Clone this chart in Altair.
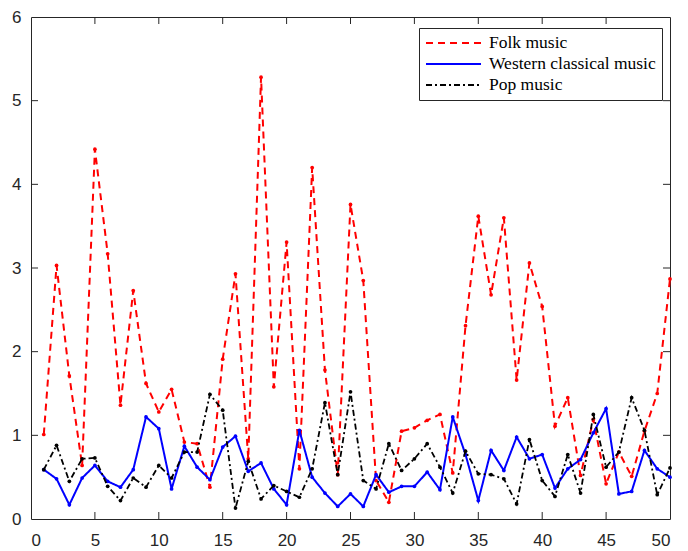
import altair as alt
import pandas as pd

x_vals = list(range(1, 51))

folk = [1.01, 3.03, 1.71, 0.64, 4.42, 3.17, 1.36, 2.73, 1.62, 1.28,
        1.55, 0.92, 0.90, 0.38, 1.91, 2.93, 0.72, 5.28, 1.58, 3.31,
        0.60, 4.20, 1.78, 0.53, 3.76, 2.85, 0.46, 0.20, 1.05, 1.09,
        1.18, 1.25, 0.55, 2.31, 3.62, 2.68, 3.60, 1.66, 3.06, 2.54,
        1.11, 1.45, 0.52, 1.19, 0.42, 0.80, 0.51, 1.05, 1.50, 2.87]

western = [0.59, 0.48, 0.17, 0.49, 0.64, 0.45, 0.38, 0.59, 1.22, 1.08,
           0.36, 0.87, 0.62, 0.47, 0.86, 0.99, 0.57, 0.67, 0.36, 0.17,
           1.06, 0.50, 0.31, 0.15, 0.30, 0.15, 0.53, 0.32, 0.39, 0.39,
           0.56, 0.35, 1.22, 0.77, 0.22, 0.82, 0.58, 0.98, 0.72, 0.77,
           0.37, 0.60, 0.71, 1.03, 1.32, 0.30, 0.33, 0.82, 0.60, 0.50]

pop = [0.59, 0.88, 0.45, 0.72, 0.73, 0.39, 0.22, 0.49, 0.38, 0.64,
       0.49, 0.80, 0.80, 1.49, 1.30, 0.13, 0.69, 0.24, 0.40, 0.33,
       0.26, 0.60, 1.39, 0.53, 1.52, 0.46, 0.36, 0.90, 0.58, 0.72,
       0.90, 0.62, 0.31, 0.81, 0.54, 0.53, 0.48, 0.18, 0.95, 0.46,
       0.27, 0.77, 0.31, 1.25, 0.62, 0.80, 1.45, 1.06, 0.29, 0.61]

series_names = ["Folk music", "Western classical music", "Pop music"]
series_colors = ["#ff0000", "#0000ff", "#000000"]
series_dash = [[7, 5], [1, 0], [6, 3, 2, 3]]

x_ticks = [0, 5, 10, 15, 20, 25, 30, 35, 40, 45, 50]
y_ticks = [0, 1, 2, 3, 4, 5, 6]
x_inner_ticks = [5, 10, 15, 20, 25, 30, 35, 40, 45]
y_inner_ticks = [1, 2, 3, 4, 5]

rows = []
for name, vals in zip(series_names, [folk, western, pop]):
    for xv, yv in zip(x_vals, vals):
        rows.append({"x": xv, "value": yv, "series": name})
df = pd.DataFrame(rows)

W, H = 639, 502
AX = "#262626"

x_scale = alt.Scale(domain=[0, 50], nice=False, zero=False)
y_scale = alt.Scale(domain=[0, 6], nice=False, zero=False)

x_enc = alt.X("x:Q", scale=x_scale,
              axis=alt.Axis(values=x_ticks, title=None, labelPadding=13))
y_enc = alt.Y("value:Q", scale=y_scale,
              axis=alt.Axis(values=y_ticks, title=None, labelPadding=10))

legend_def = alt.Legend(
    title=None, orient="none", legendX=388, legendY=11,
    fillColor="white", strokeColor=AX, padding=6, rowPadding=3,
    symbolType="M-1,0H5.875", symbolSize=256, symbolStrokeWidth=2,
    labelFont="Liberation Serif", labelFontSize=17.5, labelColor="black",
    labelOffset=46, labelLimit=400, cornerRadius=0,
)

color_enc = alt.Color("series:N",
                      scale=alt.Scale(domain=series_names, range=series_colors),
                      sort=series_names, legend=legend_def)
dash_enc = alt.StrokeDash("series:N",
                          scale=alt.Scale(domain=series_names, range=series_dash),
                          sort=series_names, legend=legend_def)

layers = []
for name, sw in zip(series_names, [2, 2, 1.8]):
    layers.append(
        alt.Chart(df).transform_filter(alt.datum.series == name)
        .mark_line(strokeWidth=sw,
                   point=alt.OverlayMarkDef(filled=True, size=14))
        .encode(x=x_enc, y=y_enc, color=color_enc, strokeDash=dash_enc)
    )

xt = pd.DataFrame({"x": x_inner_ticks})
yt = pd.DataFrame({"value": y_inner_ticks})

tick_bottom = alt.Chart(xt).mark_rule(color=AX, strokeWidth=1).encode(
    x=x_enc, y=alt.value(H), y2=alt.value(H - 7))
tick_top = alt.Chart(xt).mark_rule(color=AX, strokeWidth=1).encode(
    x=x_enc, y=alt.value(0), y2=alt.value(7))
tick_left = alt.Chart(yt).mark_rule(color=AX, strokeWidth=1).encode(
    y=y_enc, x=alt.value(0), x2=alt.value(7))
tick_right = alt.Chart(yt).mark_rule(color=AX, strokeWidth=1).encode(
    y=y_enc, x=alt.value(W), x2=alt.value(W - 7))

chart = alt.layer(tick_bottom, tick_top, tick_left, tick_right, *layers).properties(
    width=W, height=H,
    autosize=alt.AutoSizeParams(type="none"),
    padding={"left": 23, "top": 9, "right": 10, "bottom": 32},
    background="white",
).configure_view(
    stroke=AX, strokeWidth=1
).configure_axis(
    domain=False, ticks=False, tickSize=0, grid=False,
    labelFont="Liberation Sans", labelFontSize=17, labelColor=AX,
)

chart.save("out.html", embed_options={"renderer": "svg", "actions": False})
